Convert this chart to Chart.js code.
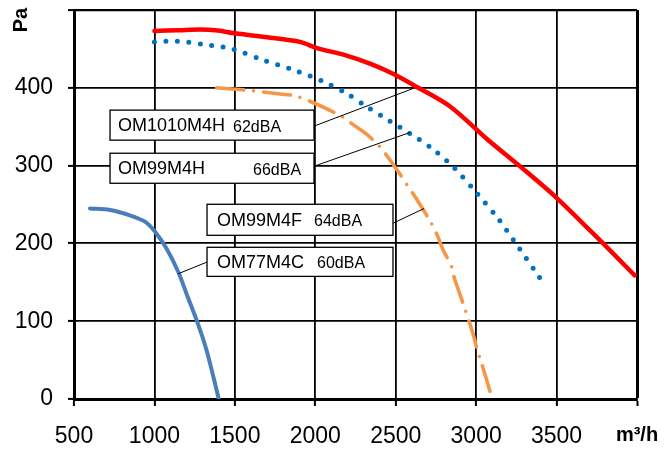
<!DOCTYPE html>
<html><head><meta charset="utf-8">
<script src="https://cdn.jsdelivr.net/npm/chart.js@4"></script>
<style>html,body{margin:0;padding:0;background:#fff}canvas{display:block}</style>
</head><body>
<canvas id="c" width="665" height="450"></canvas>
<script>
// ---- tick labels ----
const xTickValues = [500, 1000, 1500, 2000, 2500, 3000, 3500, 4000];
const xTickLabels = ['500', '1000', '1500', '2000', '2500', '3000', '3500', 'm³/h'];
const yTickValues = [0, 100, 200, 300, 400, 500];
const yTickLabels = ['0', '100', '200', '300', '400', ''];
const yAxisTitle = 'Pa';

// ---- series names ----
const seriesNames = ['OM1010M4H', 'OM99M4H', 'OM99M4F', 'OM77M4C'];
const seriesNoise = ['62dBA', '66dBA', '64dBA', '60dBA'];

// ---- series values (flow m³/h, pressure Pa) ----
const om1010Flow = [1000, 1150, 1283, 1380, 1501, 1700, 1905, 2011, 2185, 2340, 2483, 2632, 2838, 3074, 3273, 3503, 3789, 3985];
const om1010Pa   = [473, 474, 475, 474, 470, 465, 459, 451, 442, 431, 418, 401, 376, 333, 299, 258, 200, 159];

const om99hFlow = [1000, 1140, 1300, 1480, 1670, 1880, 2071, 2201, 2326, 2458, 2589, 2713, 2850, 3003, 3140, 3267, 3395];
const om99hPa   = [459, 460, 456, 450, 436, 422, 406, 392, 375, 358, 341, 324, 300, 265, 231, 194, 156];

const om99fFlow = [1387, 1574, 1781, 1868, 1963, 2149, 2233, 2315, 2402, 2510, 2568, 2620, 2713, 2759, 2796, 2848, 2862, 2895, 2925, 2982, 3004, 3035, 3086];
const om99fPa   = [400, 397, 392, 390, 383, 365, 353, 341, 324, 294, 276, 260, 229, 210, 191, 170, 157, 137, 119, 83, 65, 45, 10];

const om77Flow = [599, 724, 848, 941, 1004, 1076, 1149, 1200, 1263, 1325, 1400];
const om77Pa   = [245, 243, 236, 228, 215, 193, 163, 135, 101, 62, 0];

// ---- callout placement (data units) ----
const calloutBoxes = [
  {x0: 724,  x1: 1992, y0: 371.3, y1: 332.7, nameDx: 8,  noiseDx: 123},
  {x0: 724,  x1: 1992, y0: 315.9, y1: 277.3, nameDx: 8,  noiseDx: 143},
  {x0: 1327, x1: 2483, y0: 250.3, y1: 210.4, nameDx: 10, noiseDx: 107},
  {x0: 1327, x1: 2483, y0: 195.0, y1: 157.6, nameDx: 10, noiseDx: 110}
];
const calloutLeaders = [
  {x0: 1992, y0: 350.7, x1: 2609, y1: 399.2},
  {x0: 1992, y0: 299.2, x1: 2589, y1: 342.6},
  {x0: 2483, y0: 225.9, x1: 2676, y1: 244.8},
  {x0: 1327, y0: 176.0, x1: 1148, y1: 161.0}
];

const FONT = '"Liberation Sans", Arial, sans-serif';
const pts = (xs, ys) => xs.map((v, i) => ({x: v, y: ys[i]}));

const calloutPlugin = {
  id: 'callouts',
  afterDraw(chart) {
    const {ctx, scales: {x, y}} = chart;
    ctx.save();
    // axis title
    ctx.save();
    ctx.translate(21, 20);
    ctx.rotate(-Math.PI / 2);
    ctx.font = 'bold 20px ' + FONT;
    ctx.fillStyle = '#000';
    ctx.textAlign = 'center';
    ctx.textBaseline = 'middle';
    ctx.fillText(yAxisTitle, 0, 0);
    ctx.restore();
    // leaders
    ctx.strokeStyle = '#000';
    ctx.lineWidth = 1;
    calloutLeaders.forEach(l => {
      ctx.beginPath();
      ctx.moveTo(x.getPixelForValue(l.x0), y.getPixelForValue(l.y0));
      ctx.lineTo(x.getPixelForValue(l.x1), y.getPixelForValue(l.y1));
      ctx.stroke();
    });
    // boxes
    calloutBoxes.forEach((b, i) => {
      const left = x.getPixelForValue(b.x0), right = x.getPixelForValue(b.x1);
      const top = y.getPixelForValue(b.y0), bottom = y.getPixelForValue(b.y1);
      ctx.fillStyle = '#fff';
      ctx.fillRect(left, top, right - left, bottom - top);
      ctx.lineWidth = 1.3;
      ctx.strokeStyle = '#000';
      ctx.strokeRect(left, top, right - left, bottom - top);
      const mid = (top + bottom) / 2 + 1;
      ctx.fillStyle = '#000';
      ctx.textAlign = 'left';
      ctx.textBaseline = 'middle';
      ctx.font = '18px ' + FONT;
      ctx.fillText(seriesNames[i], left + b.nameDx, mid);
      ctx.font = '16px ' + FONT;
      ctx.fillText(seriesNoise[i], left + b.noiseDx, mid + 1);
    });
    ctx.restore();
  }
};

new Chart(document.getElementById('c'), {
  type: 'line',
  data: {
    datasets: [
      {label: seriesNames[0], data: pts(om1010Flow, om1010Pa), borderColor: '#FF0000', borderWidth: 4.5, tension: 0.3, pointRadius: 0, borderCapStyle: 'round'},
      {label: seriesNames[1], data: pts(om99hFlow, om99hPa), borderColor: '#0070C0', borderWidth: 5, tension: 0.3, pointRadius: 0, borderDash: [0, 11.5], borderCapStyle: 'round'},
      {label: seriesNames[2], data: pts(om99fFlow, om99fPa), borderColor: '#F79646', borderWidth: 3.6, tension: 0.3, pointRadius: 0, borderDash: [27, 10, 0, 10], borderCapStyle: 'round'},
      {label: seriesNames[3], data: pts(om77Flow, om77Pa), borderColor: '#4A7EBB', borderWidth: 4, tension: 0.3, pointRadius: 0, borderCapStyle: 'round'}
    ]
  },
  options: {
    responsive: false,
    animation: false,
    devicePixelRatio: 1,
    layout: {padding: {left: 0, right: 28, top: 10, bottom: 0}},
    plugins: {legend: {display: false}, tooltip: {enabled: false}},
    scales: {
      x: {
        type: 'linear', min: 500, max: 4000,
        afterBuildTicks: s => { s.ticks = xTickValues.map(v => ({value: v})); },
        afterFit: s => { s.height = 51; s.paddingLeft = 0; s.paddingRight = 0; },
        ticks: {
          color: '#000', padding: 17, maxRotation: 0, autoSkip: false,
          callback: (v, i) => xTickLabels[i],
          font: c => c.index === xTickValues.length - 1 ? {family: FONT, size: 20, weight: 'bold'} : {family: FONT, size: 23}
        },
        grid: {
          color: '#000', tickColor: '#000', tickLength: 7, tickWidth: 2,
          lineWidth: c => (c.tick && c.tick.value === 4000) ? 3 : 1.8
        },
        border: {display: true, color: '#000', width: 3}
      },
      y: {
        type: 'linear', min: 0, max: 500,
        afterBuildTicks: s => { s.ticks = yTickValues.map(v => ({value: v})); },
        afterFit: s => { s.width = 74; s.paddingTop = 0; s.paddingBottom = 0; },
        ticks: {
          color: '#000', padding: 15,
          callback: (v, i) => yTickLabels[i],
          font: {family: FONT, size: 23}
        },
        grid: {
          color: '#000', tickColor: '#000', tickLength: 6, tickWidth: 2,
          lineWidth: c => (c.tick && c.tick.value === 500) ? 2.2 : 1.8
        },
        border: {display: true, color: '#000', width: 3}
      }
    }
  },
  plugins: [calloutPlugin]
});
</script>
</body></html>
